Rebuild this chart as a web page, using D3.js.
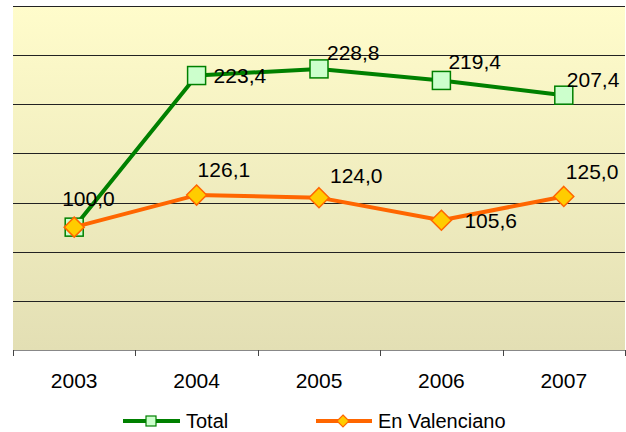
<!DOCTYPE html>
<meta charset="utf-8">
<script src="https://d3js.org/d3.v7.min.js"></script>
<html>
<head>
<style>
body { margin: 0; background: white; }
text { font-family: "Liberation Sans", Arial, sans-serif; fill: black; }
</style>
</head>
<body>
<div id="chart"></div>
<script>

// data
var years = ["2003", "2004", "2005", "2006", "2007"];
var total = [100.0, 223.4, 228.8, 219.4, 207.4];
var valenciano = [100.0, 126.1, 124.0, 105.6, 125.0];
var yTicks = [0, 40, 80, 120, 160, 200, 240, 280];
var seriesNames = ["Total", "En Valenciano"];

var W = 626, H = 432;
var plotLeft = 13, plotRight = 625, plotTop = 6, plotBottom = 350;

var svg = d3.select("#chart").append("svg")
  .attr("width", W)
  .attr("height", H);

var defs = svg.append("defs");
var grad = defs.append("linearGradient")
  .attr("id", "bg")
  .attr("x1", 0).attr("y1", 0).attr("x2", 0).attr("y2", 1);
grad.append("stop").attr("offset", "0%").attr("stop-color", "#fffccb");
grad.append("stop").attr("offset", "100%").attr("stop-color", "#e3dfb4");

var x = d3.scaleBand().domain(years).range([plotLeft, plotRight]).padding(0);
var y = d3.scaleLinear().domain([0, 280]).range([plotBottom, plotTop]);
var cx = function(d) { return x(d) + x.bandwidth() / 2; };

// plot area
svg.append("rect")
  .attr("x", plotLeft).attr("y", plotTop)
  .attr("width", plotRight - plotLeft).attr("height", plotBottom - plotTop)
  .attr("fill", "url(#bg)");

// gridlines
svg.append("g").selectAll("line")
  .data(yTicks.slice(1))
  .enter().append("line")
    .attr("x1", plotLeft).attr("x2", plotRight)
    .attr("y1", function(d) { return Math.round(y(d)) + 0.5; })
    .attr("y2", function(d) { return Math.round(y(d)) + 0.5; })
    .attr("stroke", "#222")
    .attr("stroke-width", 1);

// x axis
svg.append("line")
  .attr("x1", plotLeft).attr("x2", plotRight)
  .attr("y1", plotBottom + 0.5).attr("y2", plotBottom + 0.5)
  .attr("stroke", "#888").attr("stroke-width", 1);

var edges = years.map(function(d) { return x(d); }).concat([plotRight]);
svg.append("g").selectAll("line")
  .data(edges)
  .enter().append("line")
    .attr("x1", function(d) { return Math.round(d) + 0.5; })
    .attr("x2", function(d) { return Math.round(d) + 0.5; })
    .attr("y1", plotBottom).attr("y2", plotBottom + 6)
    .attr("stroke", "#444");

svg.append("g").selectAll("text")
  .data(years)
  .enter().append("text")
    .attr("x", cx)
    .attr("y", 388)
    .attr("text-anchor", "middle")
    .style("font-size", "21px")
    .text(function(d) { return d; });

var line = d3.line()
  .x(function(d, i) { return cx(years[i]); })
  .y(function(d) { return y(d); });

var fmt = function(v) { return d3.format(".1f")(v).replace(".", ","); };

// total series
svg.append("path")
  .datum(total)
  .attr("fill", "none")
  .attr("stroke", "#008000")
  .attr("stroke-width", 4)
  .attr("stroke-linejoin", "round")
  .attr("d", line);

svg.append("g").selectAll("rect")
  .data(total)
  .enter().append("rect")
    .attr("x", function(d, i) { return cx(years[i]) - 9; })
    .attr("y", function(d) { return y(d) - 9; })
    .attr("width", 18).attr("height", 18)
    .attr("fill", "#ccffcc")
    .attr("stroke", "#008000")
    .attr("stroke-width", 1.5);

// valenciano series
svg.append("path")
  .datum(valenciano)
  .attr("fill", "none")
  .attr("stroke", "#ff6600")
  .attr("stroke-width", 4)
  .attr("stroke-linejoin", "round")
  .attr("d", line);

var diamond = function(s) { return "M0," + (-s) + "L" + s + ",0L0," + s + "L" + (-s) + ",0Z"; };

svg.append("g").selectAll("path")
  .data(valenciano)
  .enter().append("path")
    .attr("transform", function(d, i) { return "translate(" + cx(years[i]) + "," + y(d) + ")"; })
    .attr("d", diamond(10))
    .attr("fill", "#ffcc00")
    .attr("stroke", "#ff6600")
    .attr("stroke-width", 1.5);

// data labels, nudged the way the original places them
var totalOffsets = [[-12, -21], [17, 7], [8, -9], [7, -11], [3, -8]];
var valOffsets = [null, [1, -18], [11, -15], [23, 8], [2, -17]];

svg.append("g").selectAll("text")
  .data(total)
  .enter().append("text")
    .attr("x", function(d, i) { return cx(years[i]) + totalOffsets[i][0]; })
    .attr("y", function(d, i) { return y(d) + totalOffsets[i][1]; })
    .style("font-size", "21px")
    .text(fmt);

// the 2003 value is shared with the total label, so it is drawn once
var valIdx = d3.range(1, valenciano.length);
svg.append("g").selectAll("text")
  .data(valIdx)
  .enter().append("text")
    .attr("x", function(i) { return cx(years[i]) + valOffsets[i][0]; })
    .attr("y", function(i) { return y(valenciano[i]) + valOffsets[i][1]; })
    .style("font-size", "21px")
    .text(function(i) { return fmt(valenciano[i]); });

// legend
var lg = svg.append("g");
lg.append("line").attr("x1", 123).attr("x2", 180).attr("y1", 421).attr("y2", 421)
  .attr("stroke", "#008000").attr("stroke-width", 4);
lg.append("rect").attr("x", 146).attr("y", 416).attr("width", 10).attr("height", 10)
  .attr("fill", "#ccffcc").attr("stroke", "#008000").attr("stroke-width", 1.2);
lg.append("text").attr("x", 186).attr("y", 428).style("font-size", "20px").text(seriesNames[0]);

lg.append("line").attr("x1", 316).attr("x2", 372).attr("y1", 421).attr("y2", 421)
  .attr("stroke", "#ff6600").attr("stroke-width", 4);
lg.append("path").attr("transform", "translate(343,421)").attr("d", diamond(6))
  .attr("fill", "#ffcc00").attr("stroke", "#ff6600").attr("stroke-width", 1.2);
lg.append("text").attr("x", 378).attr("y", 428).style("font-size", "20px").text(seriesNames[1]);

</script>
</body>
</html>
